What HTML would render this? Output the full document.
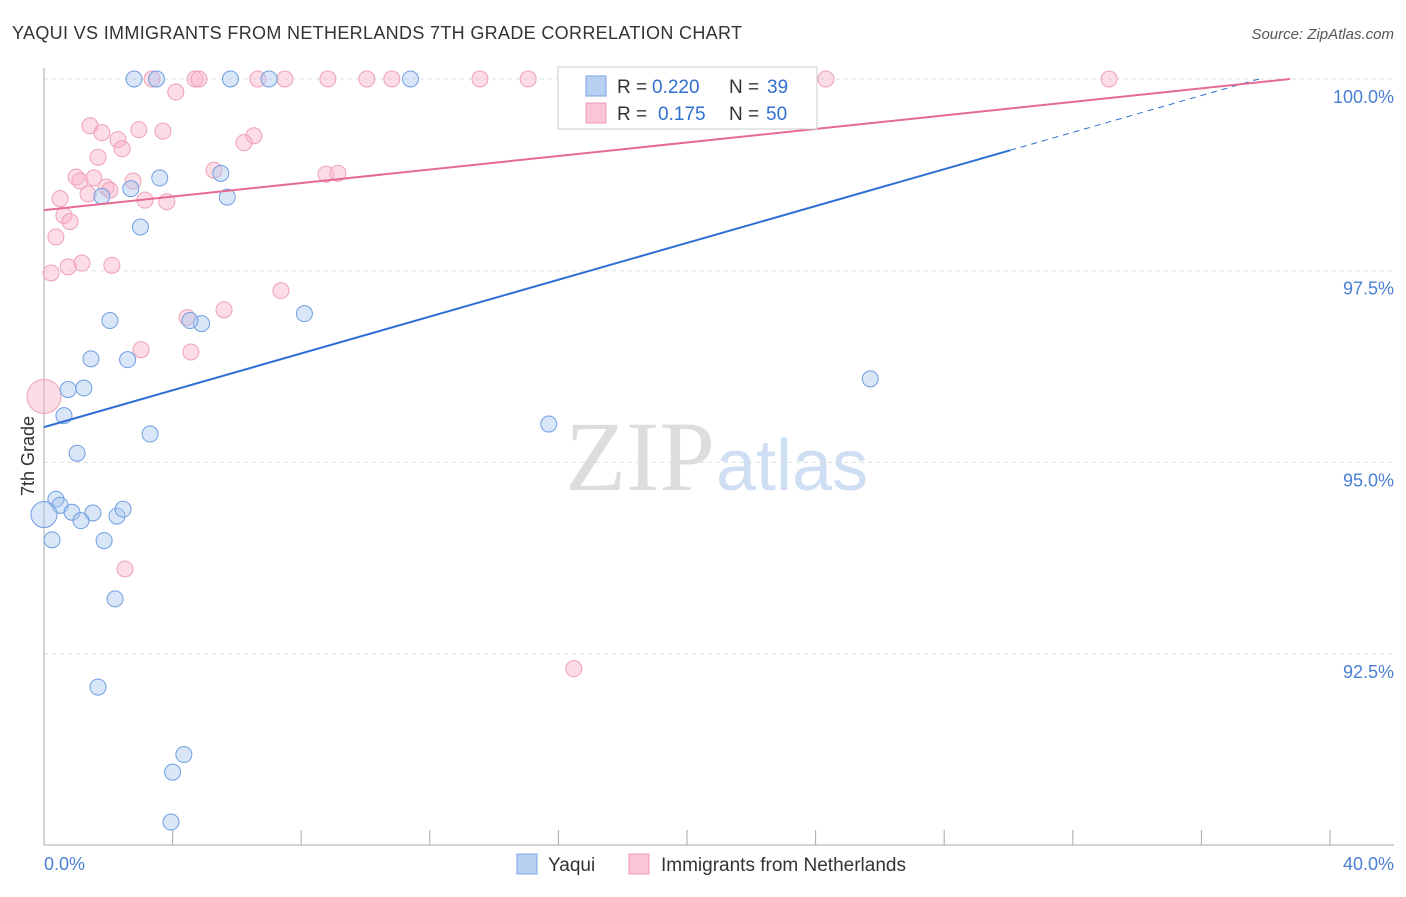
<!DOCTYPE html>
<html><head><meta charset="utf-8"><style>
body{margin:0;background:#fff;font-family:"Liberation Sans",sans-serif;}
</style></head><body>
<svg width="1406" height="892" xmlns="http://www.w3.org/2000/svg">
<text x="12" y="39" font-size="18" fill="#333" textLength="730" lengthAdjust="spacing">YAQUI VS IMMIGRANTS FROM NETHERLANDS 7TH GRADE CORRELATION CHART</text>
<text x="1394" y="39" font-size="15" fill="#555" font-style="italic" text-anchor="end">Source: ZipAtlas.com</text>
<text x="715" y="490" font-size="100" fill="#ddd" text-anchor="end" font-family="Liberation Serif,serif">ZIP</text>
<text x="716" y="490" font-size="72" fill="#cfdff3">atlas</text>
<g id="grid"></g>
<g id="axes"></g>
<g id="pts"></g>
<g id="lines"></g>
<g>
<rect x="558" y="67" width="259" height="62" fill="#fff" stroke="#ccc"/>
<rect x="586" y="76" width="20" height="20" fill="#b8d1f3" stroke="#7aa6e0"/>
<rect x="586" y="103" width="20" height="20" fill="#fac6d5" stroke="#ec9ab3"/>
<text x="617" y="93" font-size="19" fill="#333">R =</text>
<text x="652" y="93" font-size="19" fill="#2f6fd0">0.220</text>
<text x="729" y="93" font-size="19" fill="#333">N =</text>
<text x="767" y="93" font-size="19" fill="#2f6fd0">39</text>
<text x="617" y="120" font-size="19" fill="#333">R =</text>
<text x="658" y="120" font-size="19" fill="#2f6fd0">0.175</text>
<text x="729" y="120" font-size="19" fill="#333">N =</text>
<text x="766" y="120" font-size="19" fill="#2f6fd0">50</text>
</g>
<g>
<rect x="517" y="854" width="20" height="20" fill="#b8d1f3" stroke="#7aa6e0"/>
<text x="548" y="871" font-size="19" fill="#333">Yaqui</text>
<rect x="629" y="854" width="20" height="20" fill="#fac6d5" stroke="#ec9ab3"/>
<text x="661" y="871" font-size="19" fill="#333">Immigrants from Netherlands</text>
</g>
<text x="34" y="456" font-size="18" fill="#333" transform="rotate(-90 34 456)" text-anchor="middle">7th Grade</text>
</svg>
<script>
const yTicks=[100,97.5,95,92.5];
const yTickLabels=["100.0%","97.5%","95.0%","92.5%"];
const xTicks=[0,4,8,12,16,20,24,28,32,36,40];
const yaquiX=[2.8,3.5,5.8,7.0,11.4,3.6,5.5,1.8,2.7,5.7,3.0,2.05,4.9,8.1,1.46,2.6,0.75,1.24,0.62,3.3,15.7,25.7,1.03,0.37,0.5,0.87,1.52,1.15,2.27,2.46,0.0,0.25,1.87,2.21,1.68,4.35,4.0,3.95,4.54];
const yaquiY=[100,100,100,100,100,98.71,98.77,98.47,98.57,98.46,98.07,96.85,96.81,96.94,96.35,96.34,95.95,95.97,95.61,95.37,95.5,96.09,95.12,94.52,94.44,94.35,94.34,94.24,94.3,94.39,94.32,93.99,93.98,93.22,92.07,91.19,90.96,90.31,96.85];
const nethX=[3.36,4.7,4.82,6.65,7.49,8.83,10.04,10.82,13.56,15.06,24.32,33.13,4.1,1.43,1.8,2.95,3.7,2.3,6.53,6.22,2.43,1.68,5.29,8.77,9.14,1.0,1.12,1.55,2.77,1.93,2.05,1.37,3.14,3.82,0.5,0.62,0.81,0.37,1.18,2.11,0.75,0.22,7.37,5.6,4.45,3.02,4.57,0.0,2.52,16.48];
const nethY=[100,100,100,100,100,100,100,100,100,100,100,100,99.83,99.39,99.3,99.34,99.32,99.21,99.26,99.17,99.09,98.98,98.81,98.76,98.77,98.72,98.67,98.71,98.67,98.59,98.55,98.5,98.42,98.4,98.44,98.22,98.14,97.94,97.6,97.57,97.55,97.47,97.24,96.99,96.89,96.47,96.44,95.86,93.61,92.31];
const X=v=>44+v/40*1286, Y=v=>79+(100-v)*76.68;
const NS="http://www.w3.org/2000/svg";
function mk(tag,attrs,parent){const e=document.createElementNS(NS,tag);for(const k in attrs)e.setAttribute(k,attrs[k]);document.getElementById(parent).appendChild(e);return e;}
yTicks.forEach((t,i)=>{
 const l=mk('line',{x1:44,x2:1394,y1:Y(t),y2:Y(t),stroke:'#ddd','stroke-dasharray':'4 4'},'grid');
 
 
 const tx=mk('text',{x:1394,y:Y(t)+24,'font-size':18,fill:'#4a7fd4','text-anchor':'end'},'grid');
 tx.textContent=yTickLabels[i];
 
 
});
let a=mk('line',{x1:44,x2:44,y1:68,y2:845,stroke:'#aaa'},'axes');


a=mk('line',{x1:44,x2:1394,y1:845,y2:845,stroke:'#aaa'},'axes');


xTicks.forEach(t=>{
 const l=mk('line',{x1:X(t),x2:X(t),y1:830,y2:845,stroke:'#aaa'},'axes');
 
 
});
let t=mk('text',{x:44,y:870,'font-size':18,fill:'#4a7fd4'},'axes');t.textContent=xTicks[0].toFixed(1)+'%';


t=mk('text',{x:1394,y:870,'font-size':18,fill:'#4a7fd4','text-anchor':'end'},'axes');t.textContent=xTicks[xTicks.length-1].toFixed(1)+'%';


nethX.forEach((x,i)=>{
 const c=mk('circle',{cx:X(x),cy:Y(nethY[i]),r:(x===0?17:8),fill:'rgba(248,180,200,0.45)',stroke:'#eea0b8','stroke-width':1},'pts');
 
 
});
yaquiX.forEach((x,i)=>{
 const c=mk('circle',{cx:X(x),cy:Y(yaquiY[i]),r:(x===0?13:8),fill:'rgba(170,200,240,0.45)',stroke:'#6f9ee0','stroke-width':1},'pts');
 
 
});
const b0=95.46,b1=(99.07-95.46)/30.05;
let l=mk('line',{x1:X(0),y1:Y(b0),x2:X(30.05),y2:Y(b0+b1*30.05),stroke:'#2d6fd4','stroke-width':2},'lines');


const xe=(100-b0)/b1;
l=mk('line',{x1:X(30.05),y1:Y(b0+b1*30.05),x2:X(xe),y2:Y(100),stroke:'#2d6fd4','stroke-width':1,'stroke-dasharray':'6 5'},'lines');


l=mk('line',{x1:X(0),y1:Y(98.29),x2:X(38.76),y2:Y(100),stroke:'#e56b94','stroke-width':2},'lines');


</script>
</body></html>
